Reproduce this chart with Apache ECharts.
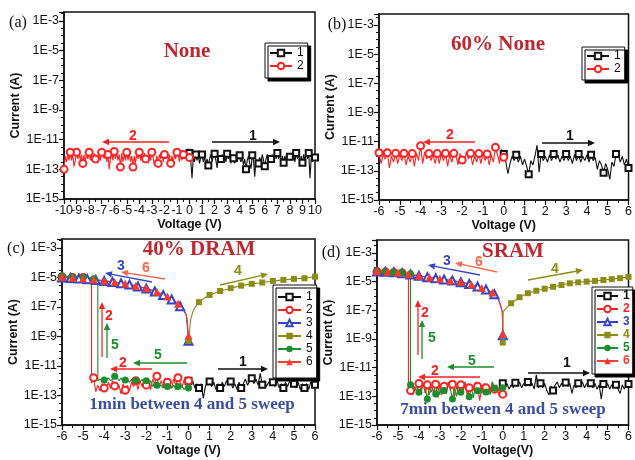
<!DOCTYPE html>
<html>
<head>
<meta charset="utf-8">
<script src="https://cdn.jsdelivr.net/npm/echarts@6/dist/echarts.min.js"></script>
<style>html,body{margin:0;padding:0;background:#fff}#chart{width:635px;height:460px}</style>
</head>
<body>
<div id="chart"></div>
<script>
// ---------------- DATA (current given as log10(I / A)) ----------------
// Panel (a): None, sweep 1 0->10 V, sweep 2 0->-10 V (0.1 V steps)
const aLogI1 = [-11.9,-12.4,-13.6,-12.2,-12.5, -12.0,-12.4,-12.1,-12.6,-12.2, -12.0,-12.5,-12.2,-12.6,-12.3, -12.75,-12.3,-12.0,-12.5,-12.1, -11.95,-12.4,-12.9,-12.2,-12.5, -12.3,-12.0,-12.4,-12.1,-12.5, -11.95,-12.3,-12.0,-12.6,-12.2, -12.25,-12.6,-12.1,-12.5,-12.0, -12.05,-12.5,-12.2,-12.7,-12.3, -13.0,-12.4,-12.1,-12.6,-12.95, -12.05,-12.4,-13.5,-12.3,-12.6, -12.6,-12.2,-12.5,-12.0,-12.4, -12.8,-12.3,-12.0,-12.4,-12.1, -12.3,-12.0,-12.5,-11.9,-12.3, -11.9,-12.3,-12.0,-12.5,-12.1, -12.55,-12.1,-12.4,-11.95,-12.3, -12.15,-11.9,-12.4,-12.0,-12.5, -11.9,-12.3,-12.0,-12.6,-12.1, -12.55,-12.0,-12.4,-11.9,-12.3, -11.9,-13.6,-12.2,-12.5,-12.0, -12.2];
const aLogI2 = [-12.2,-11.6,-12.4,-11.9,-12.3, -12.0,-12.4,-11.9,-12.5,-12.0, -11.85,-12.3,-12.0,-12.6,-12.1, -12.6,-12.0,-12.4,-11.9,-12.3, -12.0,-12.5,-11.9,-12.3,-12.0, -12.6,-12.1,-12.5,-12.7,-12.2, -11.85,-12.4,-12.0,-12.6,-12.1, -12.3,-11.9,-12.5,-12.0,-12.4, -11.85,-12.3,-11.9,-12.6,-12.1, -12.85,-12.1,-12.5,-11.9,-12.4, -11.85,-12.4,-12.0,-12.5,-11.9, -12.85,-12.0,-12.4,-11.9,-12.3, -11.8,-12.4,-11.9,-12.3,-13.0, -12.0,-12.5,-11.9,-12.3,-12.0, -11.85,-12.4,-12.0,-12.6,-12.1, -12.3,-11.9,-12.5,-12.0,-12.4, -11.85,-12.3,-11.9,-12.5,-12.0, -12.6,-12.0,-12.4,-11.9,-12.3, -11.85,-12.4,-12.8,-12.0,-12.4, -11.85,-12.4,-12.0,-12.5,-12.1, -13.0];

// Panel (b): 60% None, sweep 1 0->6 V, sweep 2 0->-6 V
const bLogI1 = [-11.85,-12.4,-13.2,-12.5,-12.0,-12.3, -11.9,-12.4,-12.0,-12.6,-12.2,-12.7, -13.24,-12.3,-12.6,-12.0,-11.23,-13.1, -11.85,-12.3,-12.0,-12.4,-11.9,-12.3, -11.85,-12.2,-11.9,-12.4,-12.0,-12.3, -11.85,-12.3,-12.0,-12.5,-11.9,-12.3, -11.85,-12.4,-12.0,-12.3,-11.9,-12.4, -11.9,-12.3,-12.1,-12.9,-12.3,-12.6, -13.13,-12.5,-12.9,-13.58,-12.4,-12.7, -11.85,-11.8,-12.4,-12.0,-12.6,-12.2, -12.8];
const bLogI2 = [-12.07,-11.5,-12.5,-11.9, -11.39,-12.4,-11.9,-12.6, -11.85,-12.3,-11.8,-12.5, -11.82,-12.4,-12.0,-12.6, -11.8,-12.2,-11.7,-12.5, -12.26,-11.8,-12.6,-12.0, -11.8,-12.4,-11.9,-12.7, -11.8,-12.3,-11.8,-12.5, -11.82,-12.5,-11.9,-12.3, -11.82,-12.2,-11.7,-12.5, -11.28,-12.3,-11.8,-12.7, -11.82,-12.4,-12.0,-12.6, -11.8,-12.3,-11.9,-12.5, -11.8,-12.4,-12.0,-12.8, -11.76,-12.2,-11.9,-12.5, -11.76];

// Panel (c): 40% DRAM
const cLogI1 = [-12.0,-12.3,-12.0,-12.5,-12.2, -12.5,-12.2,-13.19,-12.4,-12.0, -12.06,-12.4,-12.1,-12.6,-12.2, -12.5,-12.1,-12.4,-12.0,-12.3, -12.06,-12.5,-12.2,-12.6,-12.1, -12.5,-12.2,-11.9,-12.3,-12.0, -11.84,-12.2,-11.9,-12.3,-11.5, -12.27,-12.0,-12.4,-12.1,-12.3, -12.1,-12.4,-12.0,-12.5,-12.2, -12.5,-12.1,-12.4,-12.0,-12.3, -12.2,-12.5,-12.1,-12.6,-12.2, -12.5,-12.2,-12.6,-12.1,-12.4, -12.27];
const cLogI2Low = [-12.0,-12.3,-11.9,-12.4,-12.1, -11.8,-12.3,-11.9,-12.5,-12.1, -12.1,-11.8,-12.4,-12.0,-12.5, -11.7,-12.2,-11.9,-12.6,-12.0, -12.3,-11.9,-12.4,-12.0,-12.6, -12.0,-12.4,-12.1,-12.7,-12.3, -12.65,-12.2,-12.9,-12.3,-12.6, -12.35,-12.0,-12.5,-12.1,-12.6, -12.5,-12.2,-12.7,-12.3,-12.75, -11.8,-12.15];
const cV2High = [-4.6,-4.8,-5.0,-5.2,-5.5,-5.8,-6.0];
const cLogI2High = [-5.05,-5.05,-5.0,-5.03,-5.0,-5.0,-4.95];
const cLogI3 = [-9.3,-7.6,-7.3,-7.1,-6.95,-6.82,-6.7,-6.6,-6.5,-6.42, -6.34,-6.27,-6.2,-6.13,-6.07,-6.01,-5.96,-5.91,-5.86,-5.81, -5.76,-5.72,-5.68,-5.64,-5.61,-5.58,-5.55,-5.52,-5.49,-5.47, -5.44,-5.42,-5.4,-5.38,-5.36,-5.34,-5.32,-5.3,-5.28,-5.26, -5.24,-5.23,-5.21,-5.2,-5.18,-5.17,-5.15,-5.14,-5.12,-5.11, -5.1,-5.09,-5.08,-5.07,-5.06,-5.05,-5.04,-5.03,-5.02,-5.01, -5.0];
const cV4 = [0,0.05,0.1,0.2,0.3,0.5,0.75,1.0,1.5,2.0,2.5,3.0,3.5,4.0,4.5,5.0,5.5,6.0];
const cLogI4 = [-9.3,-8.6,-7.9,-7.35,-7.05,-6.68,-6.4,-6.19,-5.92,-5.73,-5.56,-5.44,-5.35,-5.24,-5.17,-5.1,-5.06,-4.95];
const cLogI5Low = [-12.5,-12.3,-12.6,-12.4,-12.5, -12.4,-12.6,-12.3,-12.5,-12.4, -12.4,-12.2,-12.5,-12.3,-12.4, -12.3,-12.1,-12.4,-12.0,-12.3, -12.0,-12.2,-11.9,-12.1,-11.9, -11.98,-12.2,-11.9,-12.1,-11.9, -11.95,-12.1,-11.8,-12.0,-11.8, -11.7,-11.9,-12.0,-11.8,-12.0, -11.95,-12.0,-11.9,-12.0];
const cV5High = [-4.3,-4.5,-5.0,-5.5,-6.0];
const cLogI5High = [-5.15,-5.1,-5.0,-4.95,-4.9];
const cV6 = [0,-0.05,-0.1,-0.2,-0.3,-0.5,-0.75,-1.0,-1.25,-1.5,-1.75,-2.0,-2.5,-3.0,-3.5,-4.0,-4.5,-5.0,-5.5,-6.0];
const cLogI6 = [-8.95,-8.0,-7.55,-7.25,-7.05,-6.78,-6.5,-6.3,-6.15,-5.98,-5.85,-5.74,-5.56,-5.42,-5.32,-5.22,-5.15,-5.08,-5.03,-4.98];

// Panel (d): SRAM
const dLogI1 = [-12.09,-12.4,-12.1,-12.5,-12.2,-12.4, -12.05,-12.3,-12.0,-12.4,-12.1,-12.3, -12.0,-12.3,-12.1,-12.5,-11.5,-12.4, -12.09,-12.4,-12.1,-12.6,-12.9,-12.3, -12.6,-12.2,-12.0,-12.4,-12.1,-12.3, -12.03,-12.3,-12.1,-12.8,-12.2,-12.4, -12.09,-12.3,-12.0,-12.4,-12.1,-12.3, -12.09,-12.4,-12.1,-12.5,-12.2,-13.2, -12.14,-12.4,-12.1,-12.5,-12.2,-12.4, -12.2,-12.5,-12.8,-12.2,-12.5,-12.2, -12.14];
const dLogI2Low = [-12.85,-12.2,-12.9,-12.4, -12.5,-12.0,-12.7,-12.3, -12.4,-12.9,-12.2,-13.3, -12.3,-12.0,-12.6,-12.2, -12.4,-12.9,-12.1,-12.7, -12.2,-12.8,-12.3,-13.0, -12.15,-12.6,-12.0,-12.8, -12.3,-12.9,-12.2,-13.1, -12.15,-12.7,-12.3,-12.9, -12.2,-12.8,-12.1,-12.6, -12.1,-12.7,-12.3,-12.9, -12.6,-12.55];
const dV2High = [-4.5,-4.8,-5.2,-5.6,-6.0];
const dLogI2High = [-4.42,-4.4,-4.36,-4.33,-4.3];
const dV3 = [0,-0.02,-0.1,-0.2,-0.3,-0.4,-0.5,-0.6,-0.8,-1.0,-1.2,-1.4,-1.6,-1.8,-2.0,-2.2,-2.4,-2.6,-2.8,-3.0,-3.2,-3.4,-3.6,-3.8,-4.0,-4.2,-4.4,-4.6,-4.8,-5.0,-5.2,-5.4,-5.6,-5.8,-6.0];
const dLogI3 = [-8.75,-7.15,-6.7,-6.3,-6.0,-5.88,-5.78,-5.7,-5.55,-5.45,-5.35,-5.25,-5.17,-5.1,-5.04,-4.98,-4.93,-4.89,-4.85,-4.81,-4.77,-4.73,-4.69,-4.64,-4.6,-4.55,-4.5,-4.46,-4.42,-4.38,-4.35,-4.33,-4.31,-4.3,-4.3];
const dV4 = [0,0.02,0.1,0.2,0.4,0.8,1.2,1.6,2.0,2.4,2.8,3.2,3.6,4.0,4.4,4.8,5.2,5.6,6.0];
const dLogI4 = [-9.25,-7.15,-6.95,-6.8,-6.51,-6.09,-5.81,-5.64,-5.5,-5.36,-5.24,-5.12,-5.05,-5.0,-4.95,-4.89,-4.83,-4.76,-4.67];
const dLogI5Low = [-12.4,-12.1,-12.6,-12.2, -12.44,-12.0,-12.9,-12.3, -12.7,-12.1,-12.8,-12.3, -12.62,-12.2,-13.1,-12.4, -13.03,-12.3,-12.0,-12.7, -12.72,-12.2,-13.0,-12.4, -13.19,-12.5,-12.0,-12.8, -12.6,-12.1,-12.9,-12.3, -12.83,-12.2,-12.7,-12.4, -13.19,-12.4,-12.1,-12.8, -12.72,-12.3,-12.6,-12.1, -12.2];
const dV5High = [-4.4,-4.8,-5.2,-5.6,-6.0];
const dLogI5High = [-4.45,-4.4,-4.37,-4.33,-4.3];
const dV6 = [0,-0.02,-0.1,-0.2,-0.3,-0.5,-0.75,-1.0,-1.25,-1.5,-2.0,-2.5,-3.0,-3.5,-4.0,-4.5,-5.0,-5.5,-6.0];
const dLogI6 = [-8.65,-7.1,-6.65,-6.25,-5.98,-5.76,-5.6,-5.44,-5.32,-5.21,-5.03,-4.92,-4.8,-4.7,-4.59,-4.49,-4.38,-4.32,-4.28];

// ---------------- BUILD ----------------
const SANS = '"Liberation Sans", Arial, sans-serif';
const SERIF = '"Liberation Serif", "Times New Roman", serif';
const STY = {
  '1': {color:'#111111', symbol:'emptyRect', size:6},
  '2': {color:'#ff2222', symbol:'emptyCircle', size:7},
  '3': {color:'#3446c8', symbol:'emptyTriangle', size:8},
  '4': {color:'#8c8c16', symbol:'rect', size:6},
  '5': {color:'#1b8e2e', symbol:'circle', size:7},
  '6': {color:'#ff3a2a', symbol:'triangle', size:8}
};
function sweep(start, step, n) {
  return Array.from({length:n}, (_, i) => Math.round((start + i*step)*100)/100);
}
function pts(xs, ys, step) {
  return xs.map((x, i) => {
    const r = x/step;
    return Math.abs(r - Math.round(r)) < 1e-6 ? {value:[x, ys[i]]} : {value:[x, ys[i]], symbol:'none'};
  });
}
function line(name, g, xs, ys, step) {
  const s = STY[name];
  return {type:'line', name, xAxisIndex:g, yAxisIndex:g, data:pts(xs, ys, step),
    symbol:s.symbol, symbolSize:s.size, showSymbol:true, showAllSymbol:true,
    itemStyle:{color:s.color, borderWidth:1.1}, lineStyle:{color:s.color, width:1.1},
    emphasis:{disabled:true}, animation:false};
}
const series = [
  line('1',0,sweep(0,0.1,101),aLogI1,0.5),
  line('2',0,sweep(0,-0.1,101),aLogI2,0.5),
  line('1',1,sweep(0,0.1,61),bLogI1,0.6),
  line('2',1,sweep(0,-0.1,61),bLogI2,0.4),
  line('1',2,sweep(0,0.1,61),cLogI1,0.5),
  line('2',2,sweep(0,-0.1,47).concat(cV2High),cLogI2Low.concat(cLogI2High),0.5),
  line('3',2,sweep(0,-0.1,61),cLogI3,0.4),
  line('4',2,cV4,cLogI4,0.5),
  line('5',2,sweep(0,-0.1,44).concat(cV5High),cLogI5Low.concat(cLogI5High),0.5),
  line('6',2,cV6,cLogI6,0.5),
  line('1',3,sweep(0,0.1,61),dLogI1,0.6),
  line('2',3,sweep(0,-0.1,46).concat(dV2High),dLogI2Low.concat(dLogI2High),0.4),
  line('3',3,dV3,dLogI3,0.4),
  line('4',3,dV4,dLogI4,0.4),
  line('5',3,sweep(0,-0.1,45).concat(dV5High),dLogI5Low.concat(dLogI5High),0.4),
  line('6',3,dV6,dLogI6,0.5)
];

const grids = [
  {left:64, top:12, width:251, height:187},
  {left:379, top:14, width:251, height:186},
  {left:62, top:239, width:253, height:186},
  {left:377, top:240, width:253, height:185}
].map(g => Object.assign(g, {show:true, borderColor:'#111', borderWidth:1.5, backgroundColor:'transparent'}));

const xRanges = [[-10,10],[-6,6],[-6,6],[-6,6]];
const xNames = ['Voltage (V)','Voltage (V)','Voltage (V)','Voltage(V)'];
const yMax = [-2.4,-2.25,-2.4,-2.1];

const axisCommon = {
  axisLine:{show:true, onZero:false, lineStyle:{color:'#111', width:1.5}},
  axisTick:{show:true, inside:false, length:5, lineStyle:{color:'#111', width:1.2}},
  splitLine:{show:false},
  nameTextStyle:{fontFamily:SANS, fontWeight:'bold', fontSize:12.5, color:'#111'}
};
const labelBase = {fontFamily:SANS, fontSize:12.5, color:'#111', margin:5, showMinLabel:true, showMaxLabel:true, hideOverlap:false};
// panel (a) labels are crowded: even values on the main axis, odd values on a label-only twin axis
const evenOnly = v => (Math.round(v) % 2 === 0 ? String(v) : '');
const oddOnly = v => (Math.round(v) % 2 !== 0 ? String(v) : '');
const xAxes = xRanges.map((r, i) => Object.assign({}, axisCommon, {
  type:'value', gridIndex:i, min:r[0], max:r[1], interval:1,
  name:xNames[i], nameLocation:'middle', nameGap:17,
  minorTick:{show:true, splitNumber:2, length:3, lineStyle:{color:'#111', width:1}},
  axisLabel:Object.assign({}, labelBase, {formatter: i === 0 ? evenOnly : (v => String(v))})
}));
xAxes.push({type:'value', gridIndex:0, min:-10, max:10, interval:1, position:'bottom',
  axisLine:{show:false}, axisTick:{show:false}, minorTick:{show:false}, splitLine:{show:false},
  axisLabel:Object.assign({}, labelBase, {formatter: oddOnly})});

const yAxes = yMax.map((m, i) => Object.assign({}, axisCommon, {
  type:'value', gridIndex:i, min:-15, max:m, interval:2,
  name:'Current (A)', nameLocation:'middle', nameGap:42, nameRotate:90,
  minorTick:{show:true, splitNumber:4, length:3, lineStyle:{color:'#111', width:1}},
  axisLabel:{fontFamily:SANS, fontSize:12.5, color:'#111', margin:5, showMinLabel:true, showMaxLabel:false,
    formatter: v => { const r = Math.round(v); return (Math.abs(v - r) < 1e-9 && Math.abs(r) % 2 === 1) ? '1E' + r : ''; }}
}));

function legend(names, left, top, padding, colored, itemWidth) {
  return {orient:'vertical', left, top, padding, itemGap:1, itemWidth:itemWidth, itemHeight:8,
    selectedMode:false, backgroundColor:'#fff', borderColor:'#111', borderWidth:1,
    shadowColor:'#000', shadowBlur:0, shadowOffsetX:3, shadowOffsetY:3,
    textStyle:{fontFamily:SANS, fontSize:12, color:'#111', lineHeight:12},
    data: names.map(n => colored ? {name:n, textStyle:{color:STY[n].color, fontWeight:'bold'}} : {name:n})};
}
const legends = [
  legend(['1','2'], 265, 43, [4,4,6,4], false, 22),
  legend(['1','2'], 582, 47, [3,4,5,4], false, 22),
  legend(['1','2','3','4','5','6'], 273, 285, [6,4,10,4], false, 23),
  legend(['1','2','3','4','5','6'], 592, 287, [3,3,7,4], true, 21)
];

// annotations (arrows and texts)
const G = [];
function arrow(x1, y1, x2, y2, color) {
  const dx = x2-x1, dy = y2-y1, L = Math.hypot(dx, dy), ux = dx/L, uy = dy/L;
  const hl = 7, hw = 3.2, bx = x2-ux*hl, by = y2-uy*hl;
  G.push({type:'line', silent:true, shape:{x1, y1, x2:bx, y2:by}, style:{stroke:color, lineWidth:1.3}});
  G.push({type:'polygon', silent:true, shape:{points:[[x2,y2],[bx-uy*hw, by+ux*hw],[bx+uy*hw, by-ux*hw]]}, style:{fill:color}});
}
function txt(t, x, y, color, font) {
  G.push({type:'text', silent:true, x, y, style:{text:t, fill:color, font, align:'center', verticalAlign:'middle', textAlign:'center', textVerticalAlign:'middle'}});
}
const NUM = 'bold 14px ' + SANS;
const TITLE = 'bold 21px ' + SERIF;
const SUB = 'bold 17px ' + SERIF;
const LAB = '16px ' + SERIF;
const RED = '#ff2222', BLK = '#111', BLUE = '#3446c8', OLV = '#8c8c16', GRN = '#1b8e2e', RED6 = '#ff6548';
const TRED = '#c0262d', TBLUE = '#3a4da3';

// (a)
txt('(a)', 18, 23, BLK, LAB);
txt('None', 187, 52, TRED, TITLE);
arrow(169,142,102,142,RED); txt('2',133,136,RED,NUM);
arrow(212,142,280,142,BLK); txt('1',253,136,BLK,NUM);
// (b)
txt('(b)', 337, 25, BLK, LAB);
txt('60% None', 498, 45, TRED, TITLE);
arrow(475,142,423,142,RED); txt('2',450,135,RED,NUM);
arrow(542,143,595,143,BLK); txt('1',570,136,BLK,NUM);
// (c)
txt('(c)', 16, 249, BLK, LAB);
txt('40% DRAM', 199, 250, TRED, TITLE);
arrow(152,282,105,273,BLUE); txt('3',121,266,BLUE,NUM);
arrow(165,279,121,272,RED6); txt('6',146,268,RED6,NUM);
arrow(220,285,268,274,OLV); txt('4',238,271,OLV,NUM);
arrow(102,357,102,302,RED); txt('2',109,316,RED,NUM);
arrow(107,358,107,323,GRN); txt('5',115,345,GRN,NUM);
arrow(187,363,133,363,GRN); txt('5',158,355,GRN,NUM);
arrow(152,369,110,369,RED); txt('2',123,363,RED,NUM);
arrow(218,369,268,369,BLK); txt('1',243,362,BLK,NUM);
txt('1min between 4 and 5 sweep', 192, 405, TBLUE, SUB);
// (d)
txt('(d)', 331, 253, BLK, LAB);
txt('SRAM', 513, 252, TRED, TITLE);
arrow(480,275,428,265,BLUE); txt('3',447,261,BLUE,NUM);
arrow(497,272,455,263,RED6); txt('6',479,262,RED6,NUM);
arrow(528,280,583,270,OLV); txt('4',555,269,OLV,NUM);
arrow(418,355,418,300,RED); txt('2',425,313,RED,NUM);
arrow(422,359,422,320,GRN); txt('5',432,338,GRN,NUM);
arrow(494,367,447,367,GRN); txt('5',472,361,GRN,NUM);
arrow(480,377,418,377,RED); txt('2',435,371,RED,NUM);
arrow(528,373,590,373,BLK); txt('1',567,363,BLK,NUM);
txt('7min between 4 and 5 sweep', 503, 410, TBLUE, SUB);

const chart = echarts.init(document.getElementById('chart'), null, {renderer:'canvas', width:635, height:460});
chart.setOption({
  animation:false,
  backgroundColor:'#fff',
  grid:grids, xAxis:xAxes, yAxis:yAxes, legend:legends, series,
  graphic:{elements:G}
});
</script>
</body>
</html>
